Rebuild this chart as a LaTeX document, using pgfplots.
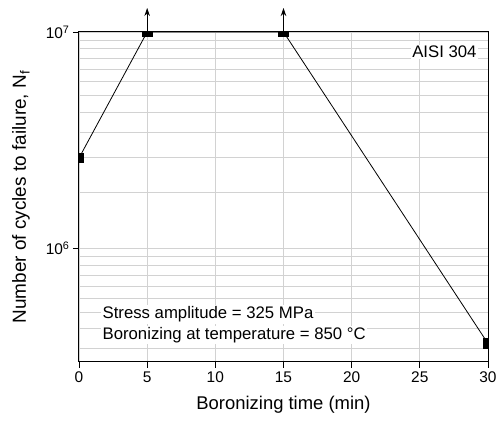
\documentclass[border=0pt]{standalone}
\usepackage{fontspec}
\setmainfont{Liberation Sans}
\usepackage{pgfplots}
\usetikzlibrary{arrows.meta}
\pgfplotsset{compat=1.18}
\begin{document}
\begin{tikzpicture}
\begin{axis}[
  scale only axis,
  width=409bp, height=330bp,
  xmin=0, xmax=30, ymin=3e5, ymax=1e7,
  ymode=log,
  xtick={0,5,10,15,20,25,30},
  ytick={1e6,1e7},
  yticklabels={10\textsuperscript{6},10\textsuperscript{7}},
  minor ytick={3.4545e5,4.2727e5,5.0909e5,5.909e5,6.727e5,7.545e5,8.3636e5,9.1818e5,
               1.818e6,2.636e6,3.4545e6,4.2727e6,5.0909e6,5.909e6,6.727e6,7.545e6,8.3636e6,9.1818e6},
  minor tick length=0pt,
  major tick length=6bp,
  tick align=outside,
  xtick pos=bottom, ytick pos=left,
  grid=both,
  major grid style={gray!35, line width=0.8bp},
  minor grid style={gray!35, line width=0.8bp},
  axis line style={black, line width=1bp},
  tick style={black, line width=0.9bp},
  /pgf/number format/assume math mode=true,
  tick label style={font=\fontsize{15.5}{18}\selectfont},
  xlabel={Boronizing time (min)},
  ylabel={Number of cycles to failure, N\textsubscript{f}},
  xlabel style={font=\fontsize{18.5}{22}\selectfont, yshift=-7bp},
  ylabel style={font=\fontsize{19}{22}\selectfont, at={(axis description cs:-0.1296,0.5)}, anchor=base},
  clip marker paths=true,
]
\addplot[black, line width=0.8bp, mark=square*, mark size=4.8bp, mark options={solid, fill=black}]
  coordinates {(0,2.62e6) (5,1e7) (15,1e7) (30,3.65e5)};
\node[fill=white, inner sep=1.5bp, font=\fontsize{16.8}{20}\selectfont] at (axis cs:26.8,8.09e6) {AISI 304};
\node[fill=white, inner sep=1.5bp, anchor=base west, font=\fontsize{16.8}{20}\selectfont] at (axis cs:1.61,4.75e5) {Stress amplitude = 325 MPa};
\node[fill=white, inner sep=1.5bp, anchor=base west, font=\fontsize{16.8}{20}\selectfont] at (axis cs:1.61,3.81e5) {Boronizing at temperature = 850 °C};
\coordinate (A5) at (axis cs:5,1e7);
\coordinate (A15) at (axis cs:15,1e7);
\coordinate (SW) at (rel axis cs:0,0);
\coordinate (NE) at (rel axis cs:1,1);
\end{axis}
\draw[-{Stealth[length=8bp,width=5.5bp]}, line width=1bp] (A5) -- ++(0,24bp);
\draw[-{Stealth[length=8bp,width=5.5bp]}, line width=1bp] (A15) -- ++(0,24bp);
\pgfresetboundingbox
\path ([shift={(-79bp,-61bp)}]SW) rectangle ([shift={(9bp,32bp)}]NE);
\end{tikzpicture}
\end{document}
